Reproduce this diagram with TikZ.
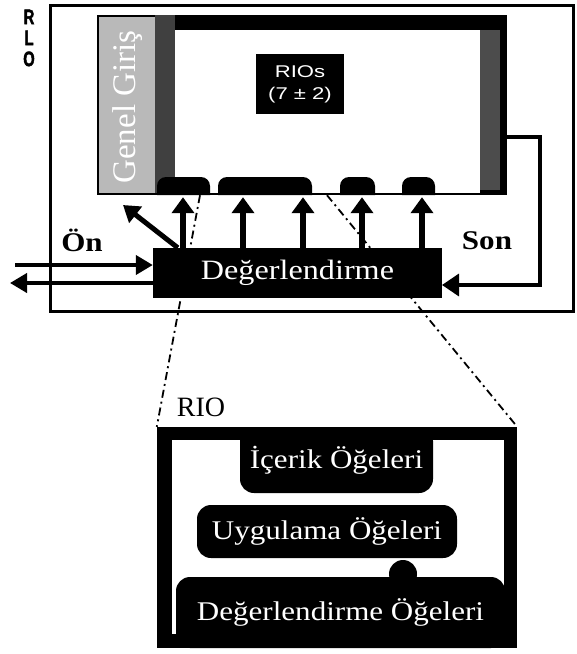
\documentclass[tikz,border=0pt]{standalone}
\usepackage{fontspec}
\setmainfont{Liberation Serif}
\newfontfamily\wideserif[FakeStretch=1.15]{Liberation Serif}
\newfontfamily\widesans[FakeStretch=1.3]{Liberation Sans}
\newfontfamily\narrowsans[FakeStretch=0.7, FakeBold=2]{Liberation Sans Bold}
\usetikzlibrary{arrows.meta, calc}

\tikzset{
  darkbox/.style={fill=black, text=white, inner sep=0pt},
  blob/.style={darkbox, rounded corners=14pt, font=\wideserif\fontsize{27}{30}\selectfont},
  uparrow/.style={line width=6pt, -{Triangle[length=16pt, width=22pt]}, shorten >=2pt},
  diagarrow/.style={line width=5pt, -{Triangle[length=16pt, width=20pt]}},
  onarrow/.style={line width=4pt, -{Triangle[length=17pt, width=19pt]}},
  sonline/.style={line width=3.5pt, -{Triangle[length=17pt, width=22pt]}},
  zoomline/.style={line width=1.8pt, dash pattern=on 8pt off 4pt on 2pt off 4pt},
  sidelbl/.style={font=\wideserif\bfseries\fontsize{27}{30}\selectfont},
}

\begin{document}
\begin{tikzpicture}[x=1pt, y=-1pt]
  \useasboundingbox (0,0) rectangle (577,654);
  \draw[line width=3pt] (50,5) rectangle (573,311);
  \node[font=\narrowsans\fontsize{21}{21}\selectfont, align=center, inner sep=0pt] (rlo) at (29,38) {R\\L\\O};

  \node[fill=black, minimum width=410pt, minimum height=180pt, inner sep=0pt] (panel) at (302,105) {};
  \fill[black!75] (155,15) rectangle (175,193);
  \fill[black!70] (480,30) rectangle (500,190);
  \fill[white] (175,30) rectangle (480,193);
  \fill[gray!55] (99,17) rectangle (155,193);
  \node[rotate=90, text=white, font=\fontsize{33}{33}\selectfont] (giris) at (128,107) {Genel Giriş};
  \foreach \a/\b in {157/210, 218/312, 340/375, 402/435}
    \fill (\a,195) [rounded corners=9pt] -- (\a,177) -- (\b,177) [sharp corners] -- (\b,195) -- cycle;
  \node[darkbox, minimum width=88pt, minimum height=60pt, align=center, font=\widesans\fontsize{17}{22}\selectfont] (rios) at (300,84) {RIOs\\(7 ± 2)};

  \node[font=\fontsize{28}{28}\selectfont] (riolbl) at (201,407) {RIO};
  \node[fill=black, minimum width=360pt, minimum height=221pt, inner sep=0pt] (riobox) at (337,537.5) {};
  \fill[white] (172,440) rectangle (504,634);
  \node[blob, minimum width=193pt, minimum height=66pt] (icerik) at (336.5,460) {İçerik Öğeleri};
  \node[blob, minimum width=260pt, minimum height=53pt] (uygulama) at (327,531.5) {Uygulama Öğeleri};
  \fill (403,574) circle (14pt);
  \node[blob, minimum width=329pt, minimum height=71pt] (olcme) at (340.5,612.5) {Değerlendirme Öğeleri};

  \coordinate (zl) at (200,0);
  \coordinate (zr) at (327,0);
  \draw[zoomline] (panel.south -| zl) -- (riobox.north west);
  \draw[zoomline] (panel.south -| zr) -- (riobox.north east);

  \node[darkbox, minimum width=289pt, minimum height=50pt, font=\wideserif\fontsize{28}{30}\selectfont] (deg) at (297.5,273) {Değerlendirme};

  \foreach \x in {183,243,303,362,422} {
    \coordinate (u) at (\x,0);
    \draw[uparrow] (deg.north -| u) -- (panel.south -| u);
  }
  \coordinate (girisuc) at (123,205);
  \draw[diagarrow] ($(deg.north west)+(25,0)$) -- (girisuc);

  \coordinate (onin) at (15,265);
  \coordinate (onout) at (10,283);
  \draw[onarrow] (onin) -- (deg.west |- onin);
  \draw[onarrow] (deg.west |- onout) -- (onout);
  \node[sidelbl] (on) at (82,240) {Ön};

  \coordinate (sonout) at (507,137);
  \coordinate (sonin) at (442,285);
  \draw[sonline] (sonout) -| (540,211) |- (sonin);
  \node[sidelbl] (son) at (487,241) {Son};
\end{tikzpicture}
\end{document}
